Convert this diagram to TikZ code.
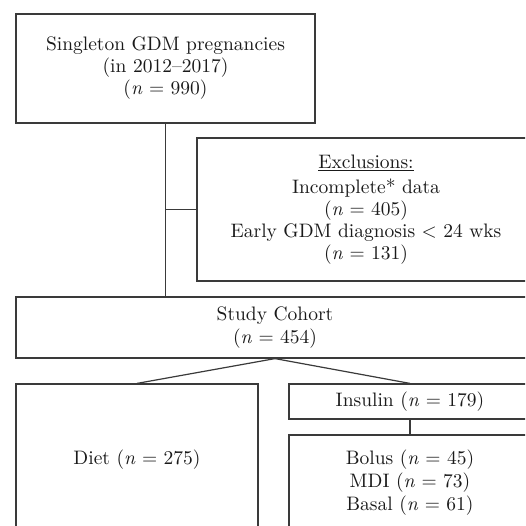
\documentclass[tikz,border=0pt]{standalone}
\usepackage{fontspec}
\setmainfont{lmroman10-regular.otf}[ItalicFont=lmroman10-italic.otf]
\definecolor{linec}{HTML}{3A3A3A}
\definecolor{txtc}{HTML}{1A1A1A}
\begin{document}
\begin{tikzpicture}[x=1pt,y=-1pt,
  box/.style={draw=linec, line width=1.2pt, inner sep=0pt, align=center, text=txtc,
    font=\fontsize{19.5}{22}\selectfont},
  conn/.style={draw=linec, line width=1.2pt}]
\useasboundingbox (0,0) rectangle (525,526);
\fill[white] (0,0) rectangle (525,526);
\begin{scope}
\clip (0,0) rectangle (525,526);
\node[box, minimum width=299pt, minimum height=109pt] (top) at (165.5,68.5)
  {Singleton GDM pregnancies\\(in 2012--2017)\\(\textit{n} = 990)};
\node[box, minimum width=338pt, minimum height=143pt] (excl) at (366,209.5)
  {\underline{Exclusions:}\\[3pt]Incomplete* data\\(\textit{n} = 405)\\Early GDM diagnosis < 24 wks\\(\textit{n} = 131)};
\node[box, minimum width=518pt, minimum height=61pt] (cohort) at (275,327.5)
  {Study Cohort\\[1pt](\textit{n} = 454)};
\node[box, minimum width=242pt, minimum height=152pt] (diet) at (137,460)
  {Diet (\textit{n} = 275)};
\node[box, minimum width=242pt, minimum height=35pt] (ins) at (410,401.5)
  {Insulin (\textit{n} = 179)};
\node[box, minimum width=242pt, minimum height=96pt] (sub) at (410,483)
  {Bolus (\textit{n} = 45)\\[1pt]MDI (\textit{n} = 73)\\[1pt]Basal (\textit{n} = 61)};
\draw[conn] (top.south) -- (top.south |- cohort.north);
\draw[conn] (top.south |- excl.west) -- (excl.west);
\draw[conn] (cohort.south) -- (diet.north);
\draw[conn] (cohort.south) -- (ins.north);
\draw[conn] (ins.south) -- (sub.north);
\end{scope}
\end{tikzpicture}
\end{document}
